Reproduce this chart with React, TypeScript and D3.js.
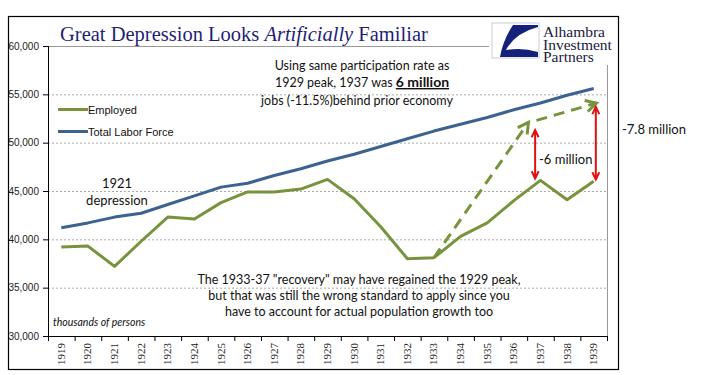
import React from "react";
import * as d3 from "d3";

const years = [1919,1920,1921,1922,1923,1924,1925,1926,1927,1928,1929,1930,1931,1932,1933,1934,1935,1936,1937,1938,1939];
const employed = [39200,39300,37200,39800,42300,42100,43800,44900,44900,45200,46200,44200,41300,38000,38100,40300,41700,44000,46100,44100,46000];
const laborForce = [41200,41700,42300,42700,43600,44500,45400,45800,46600,47300,48100,48800,49600,50400,51200,51900,52600,53400,54100,54900,55600];
const yTicks = [30000,35000,40000,45000,50000,55000,60000];
// counterfactual dashed arrows: [fromYear, fromValue, toYear, toValue]
const dashedArrows = [[1933,38100,1936.55,52100],[1936.85,52300,1939.1,54100]];
// red gap arrows: [year, top, bottom]
const gapArrows = [[1936.8,51300,46300],[1939.08,53700,46200]];

const W = 705, H = 375;
const left = 48, right = 607, top = 46, bottom = 336;

export default function App() {
  const x = d3.scaleBand<number>().domain(years).range([left, right]);
  const bw = x.bandwidth();
  const xl = d3.scaleLinear().domain([1919, 1939]).range([left + bw / 2, left + bw / 2 + 20 * bw]);
  const y = d3.scaleLinear().domain([30000, 60000]).range([bottom, top]);
  const line = d3.line<number>().x((_, i) => xl(years[i])).y((v) => y(v));
  const green = "#77933C", blue = "#3B6291", red = "#E01010";
  const fmt = d3.format(",");

  const arrowHead = (x1: number, y1: number, x2: number, y2: number, len: number, ang: number) => {
    const a = Math.atan2(y2 - y1, x2 - x1);
    const p1 = [x2 - len * Math.cos(a - ang), y2 - len * Math.sin(a - ang)];
    const p2 = [x2 - len * Math.cos(a + ang), y2 - len * Math.sin(a + ang)];
    return `M${p1[0]},${p1[1]}L${x2},${y2}L${p2[0]},${p2[1]}`;
  };

  const calibri = "Lato, 'Open Sans', sans-serif";
  const arial = "'Liberation Sans', Arial, sans-serif";
  const serif = "'Liberation Serif', 'Times New Roman', serif";

  return (
    <svg width={W} height={H} style={{ position: "absolute", left: 0, top: 0 }}>
      <rect x={0} y={0} width={W} height={H} fill="#fff" />
      <rect x={8.5} y={16.5} width={610} height={353} fill="none" stroke="#000" strokeWidth={1.2} />
      {/* gridlines */}
      {yTicks.filter((t) => t > 30000 && t < 60000).map((t) => (
        <line key={t} x1={left} x2={right} y1={y(t) + 0.5} y2={y(t) + 0.5} stroke="#aaa" strokeDasharray="2,2" strokeWidth={1} />
      ))}
      <line x1={left} x2={right} y1={y(60000) + 0.5} y2={y(60000) + 0.5} stroke="#999" />
      <line x1={right + 0.5} x2={right + 0.5} y1={top} y2={bottom} stroke="#999" />
      {/* y axis */}
      <line x1={left + 0.5} x2={left + 0.5} y1={top} y2={bottom} stroke="#000" />
      {yTicks.map((t) => (
        <g key={t}>
          <line x1={left - 5} x2={left} y1={y(t) + 0.5} y2={y(t) + 0.5} stroke="#000" />
          <text x={39} y={y(t) + 3.5} textAnchor="end" fontFamily={arial} fontSize={10} fill="#222">{fmt(t)}</text>
        </g>
      ))}
      {/* x axis */}
      <line x1={left} x2={right} y1={bottom + 0.5} y2={bottom + 0.5} stroke="#000" />
      {years.map((yr, i) => (
        <line key={"t" + yr} x1={left + i * bw + 0.5} x2={left + i * bw + 0.5} y1={bottom} y2={bottom + 5} stroke="#000" />
      ))}
      <line x1={right + 0.5} x2={right + 0.5} y1={bottom} y2={bottom + 5} stroke="#000" />
      {years.map((yr) => (
        <text key={yr} transform={`translate(${(x(yr) as number) + bw / 2 + 3.5},${bottom + 7}) rotate(-90)`} textAnchor="end" fontFamily={serif} fontSize={11} fill="#222">{yr}</text>
      ))}
      {/* series */}
      <path d={line(laborForce) || ""} fill="none" stroke={blue} strokeWidth={3} strokeLinejoin="round" />
      <path d={line(employed) || ""} fill="none" stroke={green} strokeWidth={3} strokeLinejoin="round" />
      {/* dashed arrows */}
      {dashedArrows.map((a, i) => {
        const x1 = xl(a[0]), y1 = y(a[1]), x2 = xl(a[2]), y2 = y(a[3]);
        return (
          <g key={"d" + i}>
            <line x1={x1} y1={y1} x2={x2} y2={y2} stroke={green} strokeWidth={3} strokeDasharray="11,7" />
            <path d={arrowHead(x1, y1, x2, y2, 12, 0.5)} fill="none" stroke={green} strokeWidth={3} />
          </g>
        );
      })}
      {/* red arrows */}
      {gapArrows.map((a, i) => {
        const xx = xl(a[0]), y1 = y(a[1]), y2 = y(a[2]);
        return (
          <g key={"r" + i}>
            <line x1={xx} y1={y1} x2={xx} y2={y2} stroke={red} strokeWidth={2} />
            <path d={arrowHead(xx, y2, xx, y1, 8, 0.45)} fill="none" stroke={red} strokeWidth={2} />
            <path d={arrowHead(xx, y1, xx, y2, 8, 0.45)} fill="none" stroke={red} strokeWidth={2} />
          </g>
        );
      })}
      <text x={539} y={164} fontFamily={calibri} fontSize={13} fill="#111">-6 million</text>
      <text x={622} y={134} fontFamily={calibri} fontSize={13} fill="#111">-7.8 million</text>
      {/* legend */}
      <line x1={58} x2={88} y1={109.5} y2={109.5} stroke={green} strokeWidth={3} />
      <text x={88} y={113.5} fontFamily={arial} fontSize={11} fill="#111">Employed</text>
      <line x1={58} x2={88} y1={131.5} y2={131.5} stroke={blue} strokeWidth={3} />
      <text x={88} y={135.5} fontFamily={arial} fontSize={11} fill="#111">Total Labor Force</text>
      {/* annotations */}
      <text x={117} y={188} textAnchor="middle" fontFamily={calibri} fontSize={13} fill="#111">1921</text>
      <text x={117} y={205} textAnchor="middle" fontFamily={calibri} fontSize={13} fill="#111">depression</text>
      <g fontFamily={calibri} fontSize={12.5} fill="#111" textAnchor="middle">
        <text x={362} y={70}>Using same participation rate as</text>
        <text x={362} y={87}>1929 peak, 1937 was <tspan fontWeight="bold" fontSize={14} textDecoration="underline">6 million</tspan></text>
        <text x={357} y={105}>jobs (-11.5%)behind prior economy</text>
      </g>
      <g fontFamily={calibri} fontSize={12.5} fill="#111" textAnchor="middle">
        <text x={359} y={284}>The 1933-37 "recovery" may have regained the 1929 peak,</text>
        <text x={359} y={300}>but that was still the wrong standard to apply since you</text>
        <text x={359} y={316}>have to account for actual population growth too</text>
      </g>
      <text x={53} y={326} fontFamily={calibri} fontStyle="italic" fontSize={10.5} fill="#111">thousands of persons</text>
      {/* title */}
      <text x={60} y={41} fontFamily={serif} fontSize={20.5} fill="#1F1F78">Great Depression Looks <tspan fontStyle="italic">Artificially</tspan> Familiar</text>
      {/* logo */}
      <rect x={489} y={18} width={127} height={47} fill="#fff" />
      <rect x={492} y={23} width={47} height={35} fill="#fff" stroke="#ccd" strokeWidth={1} />
      <path d="M513,25 L538,25 L538,27 Q515,33 506,50 Q522,47 538,52 L538,57 L500,57 Q503,40 513,25 Z" fill="#14207A" />
      <g fontFamily={serif} fontSize={15.5} fill="#1a1a40">
        <text x={543} y={37}>Alhambra</text>
        <text x={543} y={50}>Investment</text>
        <text x={543} y={62}>Partners</text>
      </g>
    </svg>
  );
}
